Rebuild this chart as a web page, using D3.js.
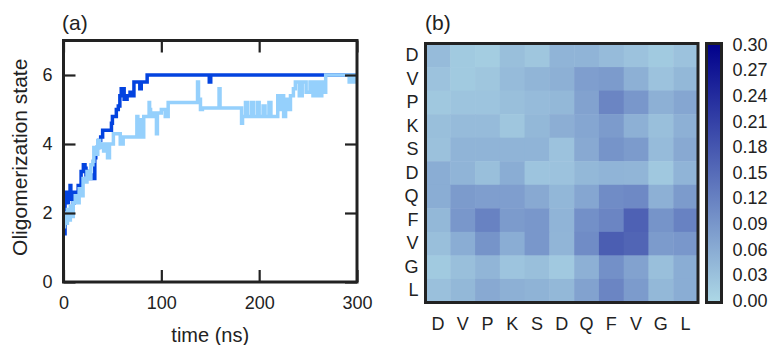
<!DOCTYPE html>
<html>
<head>
<meta charset="utf-8">
<script src="https://cdn.jsdelivr.net/npm/d3@7"></script>
<style>
  body { margin: 0; background: #fff; }
  svg { font-family: 'Liberation Sans', Arial, sans-serif; }
  .axis text { fill: #222; }
  .axis line { stroke: #222; }
  .axis path { display: none; }
</style>
</head>
<body>
<div id="chart"></div>
<script>
// panel (a): oligomerization state vs time, two runs
const darkT = [0, 1.6, 3, 4, 5, 6.7, 7.5, 8, 10, 11, 12, 13.5, 15, 16, 18, 20.3, 22, 23, 25, 27, 29, 30, 32, 33, 34, 36, 38, 40, 49, 50, 51, 54, 56, 57.6, 59, 60, 62, 65, 68, 70, 72, 78, 79.5, 85.5, 149, 150.5, 293, 294.5];
const darkV = [1.4, 2.4, 2.6, 2.3, 2.5, 2.8, 2.4, 2.5, 2.3, 2.6, 2.4, 2.6, 2.8, 2.7, 3.2, 3.4, 3.3, 3.1, 3.2, 3.0, 3.1, 3.0, 3.6, 3.8, 3.9, 4.1, 4.2, 4.4, 4.6, 4.8, 4.8, 5.0, 5.1, 5.4, 5.6, 5.6, 5.3, 5.4, 5.5, 5.4, 5.8, 5.6, 5.8, 6.0, 5.8, 6.0, 5.9, 6.0];

const lightT = [0, 1, 2, 4, 5, 7, 8, 10, 12, 14, 16, 18, 20, 22, 24, 26, 28, 30, 31, 33, 35, 37, 39, 41, 43, 45, 47, 51, 58, 61, 75, 76, 78, 80, 82, 86, 87.5, 88, 89, 92, 95, 96, 100, 104, 107, 136, 137, 138, 140, 142, 158, 159, 160, 181, 182, 183, 186, 188, 192, 194, 198, 200, 204, 206, 210, 212, 218, 219, 221, 223, 225, 227, 230, 232, 235, 237, 241, 244, 248, 252, 255, 258, 261, 264, 266, 268, 291, 292, 294, 296, 298];
const lightV = [1.6, 2.0, 1.7, 2.1, 1.8, 2.2, 1.9, 2.3, 2.5, 2.3, 2.7, 2.5, 3.0, 2.9, 3.2, 3.0, 3.4, 3.5, 3.9, 3.7, 4.1, 3.9, 4.0, 3.8, 4.0, 3.6, 4.0, 4.3, 4.0, 4.2, 4.8, 4.2, 4.7, 4.2, 4.8, 4.8, 5.2, 5.0, 4.8, 4.9, 4.3, 4.9, 5.0, 4.8, 5.2, 5.2, 5.8, 5.3, 5.0, 5.04, 5.04, 5.6, 5.04, 5.04, 4.6, 4.8, 5.2, 4.8, 5.2, 4.8, 5.2, 4.8, 5.1, 4.8, 5.2, 4.8, 4.8, 5.4, 5.0, 5.4, 4.8, 5.3, 5.0, 5.4, 5.6, 5.8, 5.4, 5.8, 5.5, 5.8, 5.4, 5.8, 5.4, 5.8, 5.5, 6.0, 6.0, 5.8, 6.0, 5.8, 6.0];

const xTicks = [0, 100, 200, 300];
const yTicks = [0, 2, 4, 6];

// panel (b): residue contact map
const residues = ['D', 'V', 'P', 'K', 'S', 'D', 'Q', 'F', 'V', 'G', 'L'];
const contactRows = [
  [0.040, 0.020, 0.015, 0.035, 0.025, 0.050, 0.050, 0.040, 0.030, 0.020, 0.030],
  [0.030, 0.020, 0.025, 0.040, 0.048, 0.055, 0.080, 0.085, 0.055, 0.030, 0.045],
  [0.022, 0.028, 0.028, 0.035, 0.040, 0.045, 0.075, 0.115, 0.090, 0.055, 0.070],
  [0.035, 0.040, 0.040, 0.025, 0.045, 0.058, 0.070, 0.085, 0.055, 0.035, 0.055],
  [0.032, 0.050, 0.050, 0.050, 0.050, 0.030, 0.065, 0.095, 0.085, 0.040, 0.065],
  [0.060, 0.050, 0.035, 0.060, 0.028, 0.030, 0.045, 0.050, 0.048, 0.022, 0.050],
  [0.060, 0.085, 0.080, 0.080, 0.065, 0.046, 0.070, 0.105, 0.110, 0.055, 0.085],
  [0.045, 0.090, 0.120, 0.085, 0.090, 0.050, 0.100, 0.115, 0.165, 0.095, 0.120],
  [0.035, 0.060, 0.095, 0.060, 0.090, 0.048, 0.105, 0.170, 0.160, 0.085, 0.090],
  [0.020, 0.035, 0.048, 0.028, 0.035, 0.021, 0.055, 0.100, 0.075, 0.035, 0.060],
  [0.033, 0.045, 0.065, 0.055, 0.052, 0.045, 0.075, 0.115, 0.085, 0.045, 0.060]
];
const cbarTicks = [0, 0.03, 0.06, 0.09, 0.12, 0.15, 0.18, 0.21, 0.24, 0.27, 0.30];

const W = 774, H = 345;
const svg = d3.select('#chart').append('svg').attr('width', W).attr('height', H);

// ---------- panel (a) ----------
const a = { left: 63.5, right: 357, top: 40.5, bottom: 282 };
const x = d3.scaleLinear().domain([0, 300]).range([a.left, a.right]);
const y = d3.scaleLinear().domain([0, 7]).range([a.bottom, a.top]);

svg.append('clipPath').attr('id', 'clipA')
  .append('rect')
  .attr('x', a.left).attr('y', a.top)
  .attr('width', a.right - a.left).attr('height', a.bottom - a.top);

const line = d3.line()
  .x(d => x(d[0]))
  .y(d => y(d[1]))
  .curve(d3.curveStepAfter);

const series = [
  { t: darkT, v: darkV, color: '#0343df' },
  { t: lightT, v: lightV, color: '#95d0fc' }
];

series.forEach(s => {
  const pts = s.t.map((t, i) => [t, s.v[i]]);
  pts.push([300, s.v[s.v.length - 1]]);
  svg.append('path')
    .datum(pts)
    .attr('clip-path', 'url(#clipA)')
    .attr('fill', 'none')
    .attr('stroke', s.color)
    .attr('stroke-width', 3.5)
    .attr('d', line);
});

// mirror ticks, pointing inward
const tickLen = 12;
svg.append('g').attr('class', 'axis')
  .attr('transform', `translate(0,${a.bottom})`)
  .style('font-size', '18px')
  .call(d3.axisBottom(x).tickValues(xTicks).tickSize(-tickLen).tickPadding(14))
  .call(g => g.selectAll('line').attr('stroke-width', 2.2));
svg.append('g').attr('class', 'axis')
  .attr('transform', `translate(0,${a.top})`)
  .call(d3.axisTop(x).tickValues(xTicks).tickSize(-tickLen).tickFormat(''))
  .call(g => g.selectAll('line').attr('stroke-width', 2.2));
svg.append('g').attr('class', 'axis')
  .attr('transform', `translate(${a.left},0)`)
  .style('font-size', '18px')
  .call(d3.axisLeft(y).tickValues(yTicks).tickSize(-tickLen).tickPadding(11).tickFormat(d3.format('d')))
  .call(g => g.selectAll('line').attr('stroke-width', 2.2));
svg.append('g').attr('class', 'axis')
  .attr('transform', `translate(${a.right},0)`)
  .call(d3.axisRight(y).tickValues(yTicks).tickSize(-tickLen).tickFormat(''))
  .call(g => g.selectAll('line').attr('stroke-width', 2.2));

svg.append('rect')
  .attr('x', a.left).attr('y', a.top)
  .attr('width', a.right - a.left).attr('height', a.bottom - a.top)
  .attr('fill', 'none').attr('stroke', '#222').attr('stroke-width', 3);

svg.append('text')
  .attr('x', (a.left + a.right) / 2).attr('y', 335)
  .attr('text-anchor', 'middle').attr('dy', '0.35em')
  .style('font-size', '20px').attr('fill', '#222')
  .text('time (ns)');

svg.append('text')
  .attr('transform', `translate(20,${(a.top + a.bottom) / 2 - 4}) rotate(-90)`)
  .attr('text-anchor', 'middle').attr('dy', '0.35em')
  .style('font-size', '21px').attr('fill', '#222')
  .text('Oligomerization state');

svg.append('text')
  .attr('x', 62).attr('y', 23).attr('dy', '0.35em')
  .style('font-size', '21px').attr('fill', '#222')
  .text('(a)');

// ---------- panel (b) ----------
const b = { left: 425.5, right: 698, top: 43.5, bottom: 302.5 };
const idx = d3.range(residues.length);
const bx = d3.scaleBand().domain(idx).range([b.left, b.right]);
const by = d3.scaleBand().domain(idx).range([b.top, b.bottom]);
const color = d3.scaleLinear().domain([0, 0.3]).range(['#add8e6', '#00008b']);

const cells = [];
contactRows.forEach((row, r) => row.forEach((v, c) => cells.push({ r, c, v })));

svg.append('g')
  .selectAll('rect')
  .data(cells)
  .enter()
  .append('rect')
  .attr('x', d => bx(d.c))
  .attr('y', d => by(d.r))
  .attr('width', bx.bandwidth() + 0.5)
  .attr('height', by.bandwidth() + 0.5)
  .attr('fill', d => color(d.v));

svg.append('rect')
  .attr('x', b.left).attr('y', b.top)
  .attr('width', b.right - b.left).attr('height', b.bottom - b.top)
  .attr('fill', 'none').attr('stroke', '#222').attr('stroke-width', 3);

svg.append('g').attr('class', 'axis')
  .attr('transform', `translate(0,${b.bottom})`)
  .style('font-size', '18px')
  .call(d3.axisBottom(bx).tickSize(0).tickPadding(15).tickFormat(i => residues[i]));
svg.append('g').attr('class', 'axis')
  .attr('transform', `translate(${b.left},0)`)
  .style('font-size', '18px')
  .call(d3.axisLeft(by).tickSize(0).tickPadding(7).tickFormat(i => residues[i]));

svg.append('text')
  .attr('x', 425).attr('y', 23).attr('dy', '0.35em')
  .style('font-size', '21px').attr('fill', '#222')
  .text('(b)');

// colorbar
const cb = { left: 706.5, right: 721.5, top: 43.5, bottom: 302.5 };
const grad = svg.append('defs').append('linearGradient')
  .attr('id', 'cbar').attr('x1', 0).attr('y1', 1).attr('x2', 0).attr('y2', 0);
grad.append('stop').attr('offset', 0).attr('stop-color', color(0));
grad.append('stop').attr('offset', 1).attr('stop-color', color(0.3));

svg.append('rect')
  .attr('x', cb.left).attr('y', cb.top)
  .attr('width', cb.right - cb.left).attr('height', cb.bottom - cb.top)
  .attr('fill', 'url(#cbar)')
  .attr('stroke', '#222').attr('stroke-width', 3);

const cy = d3.scaleLinear().domain([0, 0.3]).range([cb.bottom - 2, cb.top + 1]);
svg.append('g').attr('class', 'axis')
  .attr('transform', `translate(${cb.right},0)`)
  .style('font-size', '18px')
  .call(d3.axisRight(cy).tickValues(cbarTicks).tickSize(0).tickPadding(11).tickFormat(d3.format('.2f')));
</script>
</body>
</html>
